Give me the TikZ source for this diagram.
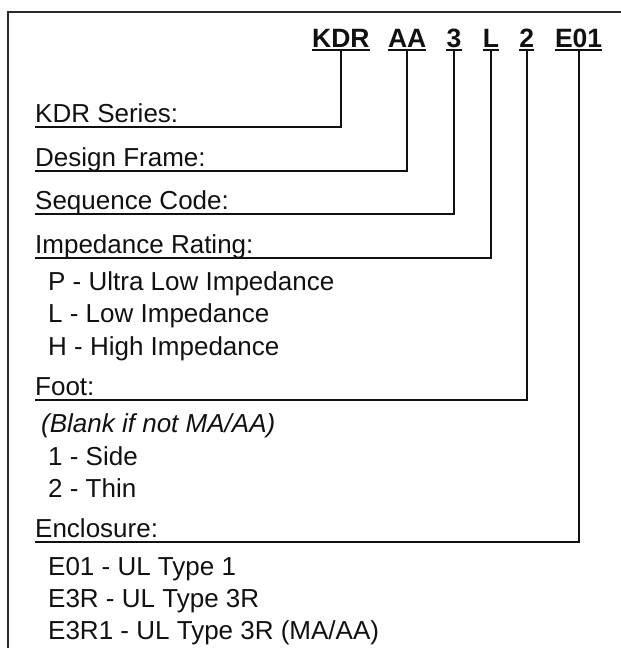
\documentclass[tikz,border=0pt]{standalone}
\usepackage{fontspec}
\setmainfont{Liberation Sans}
\usetikzlibrary{positioning}
\definecolor{ink}{HTML}{111111}
\definecolor{framegray}{HTML}{2B2B2B}

\begin{document}
\begin{tikzpicture}[
  x=1pt, y=-1pt,
  codepart/.style={font=\fontsize{26.5}{30}\selectfont\bfseries, text=ink, inner sep=0pt},
  fieldlbl/.style={font=\fontsize{26}{30}\selectfont, text=ink, inner sep=0pt, anchor=base west},
  optline/.style={font=\fontsize{26}{30}\selectfont, text=ink, inner sep=0pt, anchor=base west},
  uline/.style={ink, line width=1.3pt},
  leader/.style={ink, line width=1.8pt},
]

\useasboundingbox (0,0) rectangle (621,648);

% Frame (top and left only)
\draw[framegray, line width=1.8pt] (621,12) -- (8,12) -- (8,648);

% =============================================
% Model code
% =============================================
\node[codepart, anchor=base west] (kdr) at (312,47) {KDR};
\node[codepart, base right=18pt of kdr] (aa) {AA};
\node[codepart, base right=20pt of aa] (seq) {3};
\node[codepart, base right=21pt of seq] (imp) {L};
\node[codepart, base right=20pt of imp] (foot) {2};
\node[codepart, base right=20.5pt of foot] (encl) {E01};

\foreach \c in {kdr, aa, seq, imp, foot, encl} {
  \draw[ink, line width=1.8pt] ([yshift=-3pt]\c.base west) -- ([yshift=-3pt]\c.base east);
}

% =============================================
% Field labels
% =============================================
\foreach \n/\txt/\yy in {lkdr/KDR Series:/122, laa/Design Frame:/166,
    lseq/Sequence Code:/209, limp/Impedance Rating:/253,
    lfoot/Foot:/395, lencl/Enclosure:/537} {
  \node[fieldlbl] (\n) at (35,\yy) {\txt};
  \draw[uline] ([yshift=-5pt]\n.base west) -- ([yshift=-5pt]\n.base east);
}

% Leaders up to the code
\foreach \n/\c in {lkdr/kdr, laa/aa, lseq/seq, limp/imp, lfoot/foot, lencl/encl} {
  \draw[leader] ([yshift=-5pt]\n.base east) -- ([yshift=-5pt]\n.base east -| \c.south)
    -- ([yshift=-3pt]\c.base);
}

% =============================================
% Options
% =============================================
\node[optline] (pimp) at (48,290) {P - Ultra Low Impedance};
\node[optline] (limp2) at (48,322) {L - Low Impedance};
\node[optline] (himp) at (48,355) {H - High Impedance};

\node[optline, font=\fontsize{26}{30}\selectfont\itshape] (blank) at (41,432) {(Blank if not MA/AA)};
\node[optline] (side) at (48,465) {1 - Side};
\node[optline] (thin) at (48,497) {2 - Thin};

\node[optline] (e01) at (48,575) {E01 - UL Type 1};
\node[optline] (e3r) at (48,607) {E3R - UL Type 3R};
\node[optline] (e3r1) at (48,639) {E3R1 - UL Type 3R (MA/AA)};

\end{tikzpicture}
\end{document}
